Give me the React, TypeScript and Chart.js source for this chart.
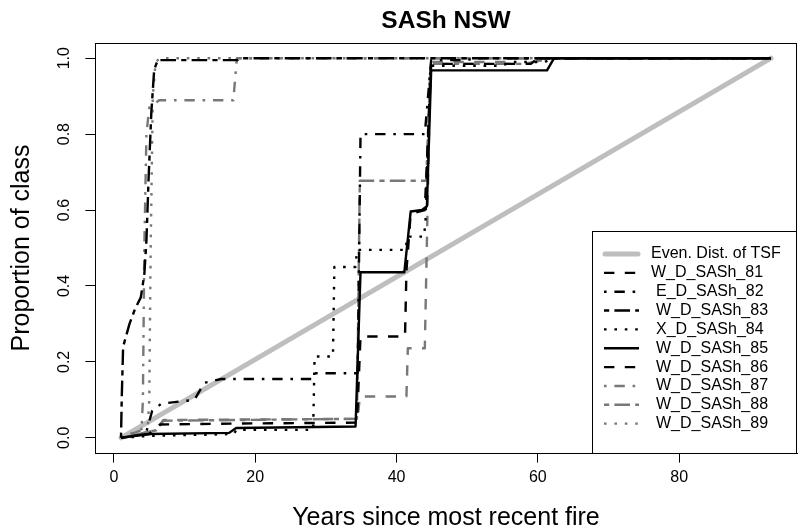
import React, { useEffect, useRef } from 'react';
import { Chart, registerables } from 'chart.js';

Chart.register(...registerables);

const FONT = "'Liberation Sans', Arial, Helvetica, sans-serif";

const TITLE = 'SASh NSW';
const X_TITLE = 'Years since most recent fire';
const Y_TITLE = 'Proportion of class';
const X_TICKS = [0, 20, 40, 60, 80];
const Y_TICKS = [0, 0.2, 0.4, 0.6, 0.8, 1.0];
const X_RANGE = [-2.68, 96.68];
const Y_RANGE = [-0.04, 1.04];

const EVEN_LABEL = 'Even. Dist. of TSF';
const EVEN_X = [1, 93];
const EVEN_Y = [0, 1];

const SERIES_NAMES = [
  'W_D_SASh_81', 'E_D_SASh_82', 'W_D_SASh_83', 'X_D_SASh_84', 'W_D_SASh_85',
  'W_D_SASh_86', 'W_D_SASh_87', 'W_D_SASh_88', 'W_D_SASh_89',
];

const S81_X = [1, 5, 6.5, 20, 34.4, 34.9, 41.2, 41.4, 42, 44, 44.9, 59, 60, 93];
const S81_Y = [0, 0.01, 0.035, 0.038, 0.04, 0.267, 0.267, 0.44, 0.59, 0.6, 0.985, 0.985, 1, 1];

const S82_X = [1, 4.5, 5.4, 6.7, 11.4, 12.8, 15.2, 28, 28.3, 34.5, 34.9, 44, 44.9, 50, 51, 93];
const S82_Y = [0, 0.01, 0.07, 0.09, 0.1, 0.145, 0.155, 0.155, 0.17, 0.17, 0.8, 0.8, 0.995, 0.995, 1, 1];

const S83_X = [1, 1.1, 1.3, 2.2, 3.0, 3.8, 4.3, 4.6, 4.9, 5.3, 5.7, 6.2, 17.5, 18, 93];
const S83_Y = [0, 0.1, 0.24, 0.3, 0.34, 0.37, 0.43, 0.52, 0.68, 0.86, 0.97, 0.995, 0.995, 1, 1];

const S84_X = [1, 5, 17, 17.3, 28.2, 28.4, 31, 31.2, 34.2, 34.4, 41.3, 41.5, 43.9, 44.1, 44.8, 55, 56, 61, 62, 93];
const S84_Y = [0, 0.005, 0.01, 0.021, 0.021, 0.214, 0.214, 0.45, 0.45, 0.495, 0.495, 0.53, 0.53, 0.574, 0.98, 0.98, 0.99, 0.99, 1, 1];

const S85_X = [1, 5, 16.3, 17.3, 34.2, 34.9, 41.1, 42, 43.6, 44.3, 44.9, 61.3, 62.3, 93];
const S85_Y = [0, 0.01, 0.013, 0.026, 0.03, 0.436, 0.436, 0.596, 0.6, 0.61, 0.968, 0.968, 1, 1];

const S86_X = [1, 6, 7, 34.5, 34.8, 41.4, 41.6, 44, 44.8, 56, 57, 93];
const S86_Y = [0, 0.02, 0.047, 0.05, 0.109, 0.109, 0.236, 0.236, 0.99, 0.99, 1, 1];

const S87_X = [1, 3.9, 4.1, 4.3, 4.6, 5.0, 6.4, 16.9, 17.4, 93];
const S87_Y = [0, 0.02, 0.1, 0.5, 0.8, 0.87, 0.889, 0.889, 1, 1];

const S88_X = [1, 6, 7, 34.4, 34.8, 44.2, 44.8, 58, 62, 93];
const S88_Y = [0, 0.02, 0.045, 0.05, 0.677, 0.677, 0.985, 0.985, 1, 1];

const S89_X = [1, 4.8, 5.0, 5.2, 5.5, 5.9, 6.5, 93];
const S89_Y = [0, 0.03, 0.1, 0.5, 0.9, 0.99, 1, 1];

const SERIES_X = [S81_X, S82_X, S83_X, S84_X, S85_X, S86_X, S87_X, S88_X, S89_X];
const SERIES_Y = [S81_Y, S82_Y, S83_Y, S84_Y, S85_Y, S86_Y, S87_Y, S88_Y, S89_Y];

// styling
const BLACK = '#000000';
const GREY = '#787878';
const EVEN_COLOR = '#bebebe';
const LW = 2.4;
const DASHED = [10.4, 10.4];
const DOTTED = [2.6, 7.8];
const DOTDASH = [2.6, 7.8, 10.4, 7.8];
const TWODASH = [5.2, 5.2, 15.6, 5.2];
const SOLID: number[] = [];

const PLOT_COLORS = [BLACK, BLACK, BLACK, BLACK, BLACK, GREY, GREY, GREY, GREY];
const LEGEND_COLORS = [BLACK, BLACK, BLACK, BLACK, BLACK, BLACK, GREY, GREY, GREY];
const DASHES = [DASHED, DOTDASH, TWODASH, DOTTED, SOLID, DASHED, DOTDASH, TWODASH, DOTTED];
const LEGEND_INDENT = [0, 5, 5, 5, 5, 5, 5, 5, 5];

function toPoints(xs: number[], ys: number[]) {
  return xs.map((x, i) => ({ x, y: ys[i] }));
}

const boxPlugin = {
  id: 'rBox',
  afterDatasetsDraw(chart: any) {
    const { ctx, chartArea } = chart;
    ctx.save();
    ctx.strokeStyle = '#000';
    ctx.lineWidth = 1;
    const l = Math.round(chartArea.left) + 0.5;
    const t = Math.round(chartArea.top) + 0.5;
    const r = Math.round(chartArea.right) - 0.5;
    const b = Math.round(chartArea.bottom) + 0.5;
    ctx.strokeRect(l, t, r - l, b - t);
    ctx.restore();
  },
};

const legendPlugin = {
  id: 'rLegend',
  afterDraw(chart: any) {
    const { ctx, chartArea } = chart;
    const l = 592.5;
    const t = 231.5;
    const r = Math.round(chartArea.right) - 0.5;
    const b = Math.round(chartArea.bottom) + 0.5;
    ctx.save();
    ctx.fillStyle = '#ffffff';
    ctx.fillRect(l, t, r - l, b - t);
    ctx.strokeStyle = '#000';
    ctx.lineWidth = 1;
    ctx.strokeRect(l, t, r - l, b - t);

    const rowY0 = 254;
    const dy = 18.85;
    const segX0 = 604;
    const segX1 = 639;
    const textX = 651;
    ctx.font = `16px ${FONT}`;
    ctx.textBaseline = 'middle';
    ctx.textAlign = 'left';

    // even distribution row
    ctx.beginPath();
    ctx.strokeStyle = EVEN_COLOR;
    ctx.lineWidth = 5;
    ctx.lineCap = 'round';
    ctx.setLineDash([]);
    ctx.moveTo(segX0 + 1, rowY0);
    ctx.lineTo(segX1 - 1, rowY0);
    ctx.stroke();
    ctx.fillStyle = '#000';
    ctx.fillText(EVEN_LABEL, textX, rowY0);

    SERIES_NAMES.forEach((name, i) => {
      const y = rowY0 + dy * (i + 1);
      ctx.beginPath();
      ctx.strokeStyle = LEGEND_COLORS[i];
      ctx.lineWidth = LW;
      ctx.lineCap = 'butt';
      ctx.setLineDash(DASHES[i]);
      ctx.moveTo(segX0, y);
      ctx.lineTo(segX1, y);
      ctx.stroke();
      ctx.setLineDash([]);
      ctx.fillStyle = '#000';
      ctx.fillText(name, textX + LEGEND_INDENT[i], y);
    });
    ctx.restore();
  },
};

export default function App() {
  const canvasRef = useRef<HTMLCanvasElement | null>(null);

  useEffect(() => {
    const canvas = canvasRef.current;
    if (!canvas) return;

    const datasets: any[] = [
      {
        label: EVEN_LABEL,
        data: toPoints(EVEN_X, EVEN_Y),
        borderColor: EVEN_COLOR,
        borderWidth: 5,
        borderCapStyle: 'round',
        pointRadius: 0,
        tension: 0,
        fill: false,
        order: 1,
      },
      ...SERIES_NAMES.map((name, i) => ({
        label: name,
        data: toPoints(SERIES_X[i], SERIES_Y[i]),
        borderColor: PLOT_COLORS[i],
        borderWidth: LW,
        borderDash: DASHES[i],
        borderCapStyle: 'butt',
        borderJoinStyle: 'round',
        pointRadius: 0,
        tension: 0,
        fill: false,
        order: 0,
      })),
    ];

    const tickFont = { family: FONT, size: 16 };
    const TICK_LEN = 9.6;

    const chart = new Chart(canvas, {
      type: 'line',
      data: { datasets },
      plugins: [boxPlugin, legendPlugin],
      options: {
        responsive: false,
        animation: false,
        devicePixelRatio: 1,
        layout: { padding: { left: 0, right: 1, top: 0, bottom: 0 } },
        plugins: {
          legend: { display: false },
          tooltip: { enabled: false },
          title: {
            display: true,
            fullSize: false,
            text: TITLE,
            color: '#000',
            font: { family: FONT, size: 24.5, weight: 'bold', lineHeight: 1.2 },
            padding: { top: 7, bottom: 6.6 },
          },
        },
        scales: {
          x: {
            type: 'linear',
            min: X_RANGE[0],
            max: X_RANGE[1],
            afterBuildTicks: (s: any) => {
              s.ticks = X_TICKS.map((v) => ({ value: v }));
            },
            afterFit: (s: any) => {
              s.height = 78;
            },
            grid: {
              display: true,
              drawOnChartArea: false,
              drawTicks: true,
              tickLength: TICK_LEN,
              color: '#000',
              lineWidth: 1,
            },
            border: { display: true, color: '#000', width: 1 },
            ticks: {
              color: '#000',
              font: tickFont,
              padding: 5,
              maxRotation: 0,
              minRotation: 0,
              autoSkip: false,
              callback: (v: any) => String(v),
            },
            title: {
              display: true,
              text: X_TITLE,
              color: '#000',
              font: { family: FONT, size: 25, lineHeight: 1 },
              padding: { top: 0, bottom: 0 },
            },
          },
          y: {
            type: 'linear',
            min: Y_RANGE[0],
            max: Y_RANGE[1],
            afterBuildTicks: (s: any) => {
              s.ticks = Y_TICKS.map((v) => ({ value: v }));
            },
            afterFit: (s: any) => {
              s.width = 95;
            },
            grid: {
              display: true,
              drawOnChartArea: false,
              drawTicks: true,
              tickLength: TICK_LEN,
              color: '#000',
              lineWidth: 1,
            },
            border: { display: true, color: '#000', width: 1 },
            ticks: {
              color: '#000',
              font: tickFont,
              padding: 9.3,
              minRotation: 90,
              maxRotation: 90,
              crossAlign: 'center',
              autoSkip: false,
              callback: (v: any) => Number(v).toFixed(1),
            },
            title: {
              display: true,
              text: Y_TITLE,
              color: '#000',
              font: { family: FONT, size: 25, lineHeight: 1 },
              padding: { top: 9.5, bottom: 0 },
            },
          },
        },
      } as any,
    });

    return () => {
      chart.destroy();
    };
  }, []);

  return (
    <div style={{ position: 'absolute', left: 0, top: 0, width: 798, height: 531, background: '#fff' }}>
      <canvas ref={canvasRef} width={798} height={531} style={{ display: 'block' }} />
    </div>
  );
}
